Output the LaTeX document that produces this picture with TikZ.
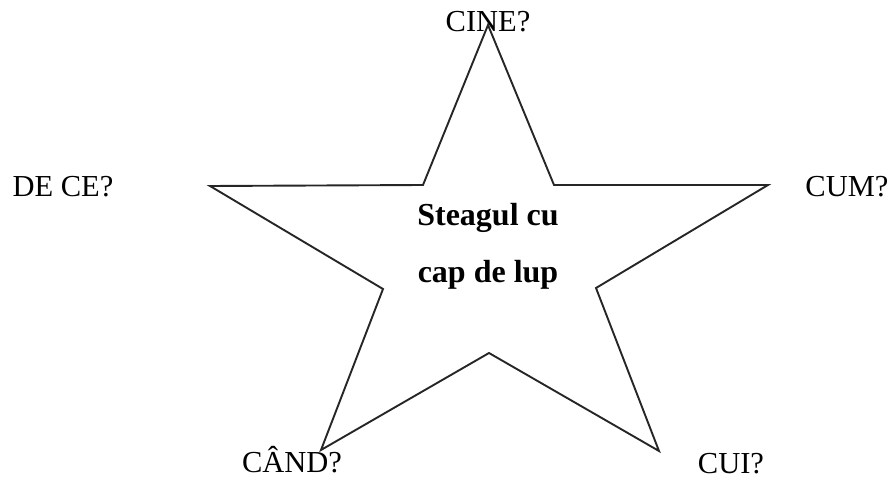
\documentclass[tikz,border=0pt]{standalone}
\usepackage{fontspec}
\setmainfont{Liberation Serif}
\begin{document}
\begin{tikzpicture}[x=1pt,y=-1pt,
  ques/.style={anchor=base, inner sep=0pt, font=\fontsize{30.5}{36}\selectfont}]
\useasboundingbox (0,0) rectangle (891,478);
\coordinate (sid0) at (488,25);
\coordinate (sid1) at (554,185);
\coordinate (sid2) at (768,185);
\coordinate (sid3) at (596,288);
\coordinate (sid4) at (659,451);
\coordinate (sid5) at (489,353);
\coordinate (sid6) at (321,450);
\coordinate (sid7) at (383,289);
\coordinate (sid8) at (210,186);
\coordinate (sid9) at (423,185);
\draw[line width=1.9pt, black!85] (sid0) -- (sid1) -- (sid2) -- (sid3) -- (sid4) -- (sid5) -- (sid6) -- (sid7) -- (sid8) -- (sid9) -- cycle;
\node[align=center, font=\bfseries\fontsize{32}{57}\selectfont] (mid) at (488,246) {Steagul cu\\cap de lup};
\node[ques] (qid0) at (488,32) {CINE?};
\node[ques] (qid1) at (847,197) {CUM?};
\node[ques] (qid2) at (731,473) {CUI?};
\node[ques] (qid3) at (292,472) {CÂND?};
\node[ques] (qid4) at (63,197) {DE CE?};
\end{tikzpicture}
\end{document}
